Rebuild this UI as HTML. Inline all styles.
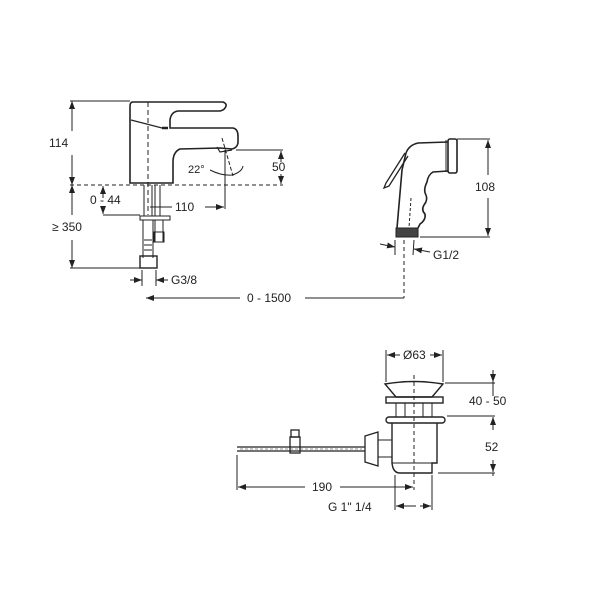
<!DOCTYPE html>
<html><head><meta charset="utf-8"><style>
html,body{margin:0;padding:0;background:#fff;}
svg{display:block;}
text{font-family:"Liberation Sans",sans-serif;font-size:12px;fill:#222;}
</style></head><body>
<svg width="600" height="600" viewBox="0 0 600 600" xmlns="http://www.w3.org/2000/svg">
<defs>
<marker id="a" markerWidth="8" markerHeight="6" refX="8" refY="3" orient="auto-start-reverse" markerUnits="userSpaceOnUse"><path d="M0,0 L8,3 L0,6 z" fill="#222"/></marker>
</defs>
<g stroke="#222" fill="none" stroke-width="1">
<!-- faucet -->
<path d="M133,102 L223,102 Q228,104 225,108 Q224,110 220,111 L178,111 Q171,112 170,120 L170,128 L233,128 Q238,129 238,136 L238,143 Q237,148 232,149 L220,148 L180,149 Q173,152 173,162 L173,183 L130,183 L130,106 Q130,102 133,102 Z" stroke-width="1.6"/>
<path d="M131,120 L162,128" stroke-width="1.2"/>
<path d="M162,128 L168,128" stroke-width="2.5"/>
<path d="M217,147 L220,152 L232,150" stroke-width="1.2"/>
<!-- dashed lines -->
<path d="M70,185 L283,185" stroke-dasharray="4,3"/>
<path d="M148,102 L148,215" stroke-dasharray="5,3"/>
<!-- shank -->
<path d="M144,185 L144,216 M152,185 L152,216 M155,185 L155,216 M160,185 L160,216" />
<rect x="140" y="216" width="30" height="4"/>
<path d="M143,220 L143,258 M153,220 L153,258 M155,220 L155,242 M163,220 L163,242"/>
<rect x="154" y="232" width="10" height="10"/>
<rect x="140" y="256" width="17" height="12" stroke-width="1.4"/>
<path d="M144,240 L152,240 M144,245 L152,245 M144,250 L152,250"/>
<!-- dims faucet -->
<path d="M70,101 L130,101 M70,268 L140,268"/>
<path d="M72,131 L72,101" marker-end="url(#a)"/><path d="M72,155 L72,185" marker-end="url(#a)"/>
<path d="M72,215 L72,185" marker-end="url(#a)"/><path d="M72,240 L72,268" marker-end="url(#a)"/>
<path d="M103,198 L103,186" marker-end="url(#a)"/><path d="M103,206 L103,214" marker-end="url(#a)"/>
<path d="M103,215 L140,215"/>
<path d="M150,207 L172,207"/><path d="M205,207 L224,207" marker-end="url(#a)"/>
<path d="M225,150 L225,209"/>
<path d="M222,138 L233,176" stroke-dasharray="4,2"/>
<path d="M210,170 Q222,176 232,175 Q242,172 243,166"/>
<path d="M236,150 L283,150"/>
<path d="M281,162 L281,151" marker-end="url(#a)"/><path d="M281,174 L281,184" marker-end="url(#a)"/>
<path d="M130,280 L142,280" marker-end="url(#a)"/><path d="M168,280 L156,280" marker-end="url(#a)"/>
<path d="M142,270 L142,286 M156,270 L156,286"/>
<path d="M240,298 L146,298" marker-end="url(#a)"/><path d="M305,298 L404,298"/>
<!-- hand shower -->
<path d="M448,142 L418,143 Q409,145 406,153 L402,170 L397,228 M448,171 L433,172 Q428,175 427,182 Q423,190 426,195 Q428,200 424,205 Q421,210 425,214 Q426,220 420,224 L418,228" stroke-width="1.6"/>
<rect x="448" y="139" width="9" height="34" rx="2" stroke-width="1.6"/>
<path d="M446,140 L446,172" stroke-width="1"/>
<path d="M405,153 L386,183 L384,188 L389,186 L408,156" stroke-width="1.3"/>
<rect x="396" y="228" width="22" height="9" fill="#444"/>
<path d="M411,198 L409,228" stroke-dasharray="3,2"/>
<path d="M457,139 L490,139 M420,237 L490,237"/>
<path d="M488,175 L488,140" marker-end="url(#a)"/><path d="M488,198 L488,236" marker-end="url(#a)"/>
<path d="M380,244 L395,247" marker-end="url(#a)"/><path d="M430,252 L414,249" marker-end="url(#a)"/>
<path d="M395,240 L395,255 M414,240 L413,255"/>
<path d="M404,240 L404,298" stroke-dasharray="4,3"/>
<!-- drain -->
<path d="M386,350 L386,382 M443,350 L443,382"/>
<path d="M400,355 L387,355" marker-end="url(#a)"/><path d="M430,355 L442,355" marker-end="url(#a)"/>
<path d="M385,384 Q414,379 443,384 L432,397 L396,397 Z" stroke-width="1.4"/>
<rect x="386" y="397" width="57" height="6" stroke-width="1.4"/>
<path d="M396,403 L396,417 M432,403 L432,417 M405,403 L405,417 M423,403 L423,417"/>
<rect x="386" y="417" width="59" height="6" rx="3" stroke-width="1.4"/>
<path d="M392,423 L392,463 Q393,473 400,473 L432,473 L432,463 L437,463 L437,423" stroke-width="1.4"/>
<path d="M392,463 L437,463"/>
<path d="M414,375 L414,490" stroke-dasharray="4,3"/>
<path d="M237,447 L365,447 M237,451 L365,451" stroke-width="1.3"/>
<path d="M240,449 L362,449" stroke-dasharray="3,2" stroke-width="0.6"/>
<rect x="290" y="437" width="10" height="16" stroke-width="1.3"/>
<rect x="291" y="430" width="8" height="7" stroke-width="1.3"/>
<path d="M365,436 L378,432 L378,466 L365,462 Z" stroke-width="1.3"/>
<path d="M378,440 L392,440 M378,457 L392,457"/>
<path d="M445,383 L495,383 M447,416 L495,416 M438,473 L495,473"/>
<path d="M493,370 L493,382" marker-end="url(#a)"/><path d="M493,396 L493,382"/>
<path d="M493,430 L493,417" marker-end="url(#a)"/><path d="M493,460 L493,472" marker-end="url(#a)"/>
<path d="M493,473 L493,476"/>
<path d="M237,455 L237,490 M395,475 L395,510 M432,475 L432,510"/>
<path d="M305,487 L238,487" marker-end="url(#a)"/><path d="M340,487 L413,487" marker-end="url(#a)"/>
<path d="M416,506 L396,506" marker-end="url(#a)"/><path d="M420,506 L431,506" marker-end="url(#a)"/>
</g>
<text x="49" y="147">114</text>
<text x="52" y="231">≥ 350</text>
<text x="90" y="204">0 - 44</text>
<text x="175" y="211">110</text>
<text x="188" y="173" style="font-size:11px">22°</text>
<text x="272" y="171">50</text>
<text x="171" y="284">G3/8</text>
<text x="247" y="302">0 - 1500</text>
<text x="475" y="191">108</text>
<text x="433" y="259">G1/2</text>
<text x="403" y="359">Ø63</text>
<text x="469" y="405">40 - 50</text>
<text x="485" y="451">52</text>
<text x="312" y="491">190</text>
<text x="328" y="511">G 1" 1/4</text>
</svg>
</body></html>
